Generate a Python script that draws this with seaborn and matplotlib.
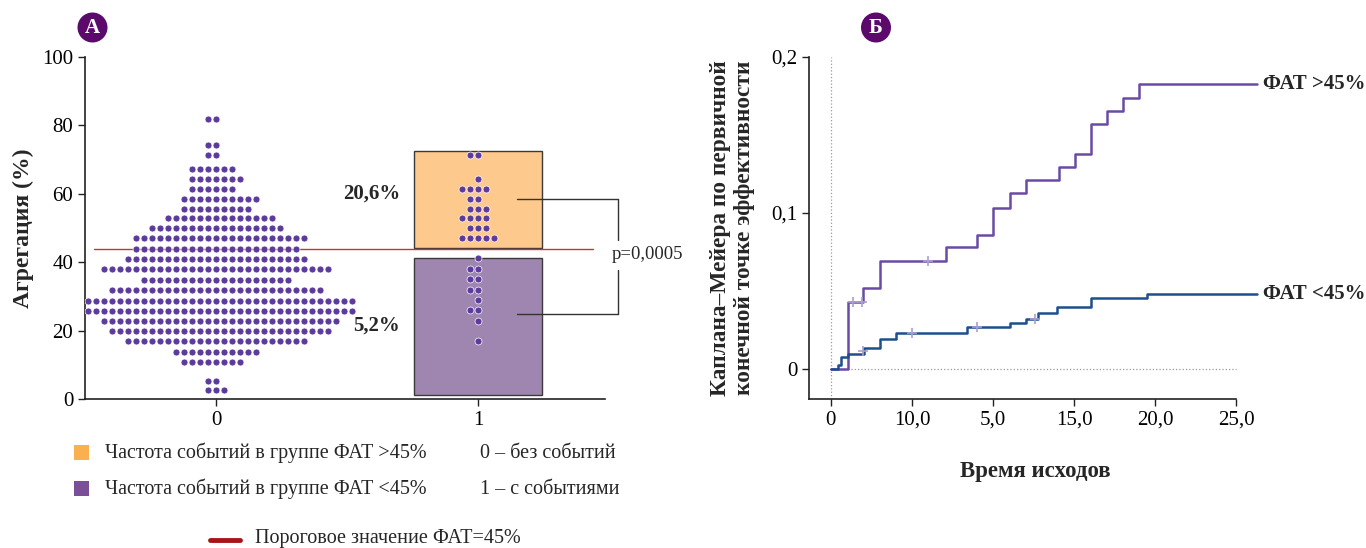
import numpy as np
import pandas as pd
import seaborn as sns
import matplotlib.pyplot as plt
from matplotlib.patches import Ellipse, Rectangle
from matplotlib.lines import Line2D

sns.set_theme(style="ticks")
plt.rcParams['font.family'] = ['Liberation Serif', 'DejaVu Serif']

# ---------------- data: panel A (aggregation dot rows) ----------------
groups = [0, 1]
group_labels = ["0", "1"]
levels_g0 = [82.0, 74.2, 71.2, 67.3, 64.3, 61.4, 58.6, 55.7, 52.8, 49.9, 47.0, 44.0,
             40.9, 37.9, 34.9, 31.9, 28.8, 25.8, 22.9, 19.9, 16.9, 13.8, 10.8, 5.4, 2.5]
counts_g0 = [2, 2, 2, 6, 7, 6, 10, 9, 14, 17, 22, 21,
             23, 29, 19, 27, 35, 34, 30, 28, 23, 11, 8, 2, 3]
levels_g1 = [71.2, 64.4, 61.5, 58.6, 55.7, 52.8, 49.9, 47.0,
             41.1, 38.0, 35.1, 32.0, 28.9, 25.9, 22.9, 17.0]
counts_g1 = [2, 1, 4, 2, 3, 4, 3, 5,
             1, 2, 2, 2, 1, 2, 1, 1]
box_bottom = [44.2, 1.2]     # group 1 boxes: FAT>45% (upper), FAT<45% (lower)
box_top = [72.6, 41.2]
box_labels = ["20,6%", "5,2%"]
box_label_y = [60.0, 21.4]
threshold_y = 44.0
bracket_y = [58.6, 25.0]
p_text = "p=0,0005"

# ---------------- data: panel B (Kaplan-Meier) ----------------
t_hi = [0, 1.07, 2.0, 3.0, 7.07, 9.0, 10.0, 11.03, 12.0, 14.04, 15.02, 16.03, 17.04, 18.04, 19.0, 26.3]
v_hi = [0, 0.043, 0.052, 0.069, 0.0784, 0.086, 0.103, 0.113, 0.121, 0.1297, 0.138, 0.1568,
        0.1654, 0.1739, 0.1824, 0.1824]
t_lo = [0, 0.45, 0.6, 1.07, 2.03, 3.0, 4.0, 8.37, 11.03, 12.0, 12.74, 13.97, 16.03, 19.46, 26.3]
v_lo = [0, 0.0028, 0.0075, 0.0098, 0.0134, 0.0192, 0.023, 0.0269, 0.0292, 0.032, 0.0359,
        0.0397, 0.0455, 0.0483, 0.0483]
cens_t_hi = [1.38, 1.93, 6.0]
cens_v_hi = [0.043, 0.043, 0.069]
cens_t_lo = [1.97, 5.0, 8.98, 12.58]
cens_v_lo = [0.0113, 0.023, 0.0269, 0.032]
xticks_b = [0, 5, 10, 15, 20, 25]
xticklabels_b = ["0", "10,0", "5,0", "15,0", "20,0", "25,0"]
yticks_b = [0, 0.1, 0.2]
yticklabels_b = ["0", "0,1", "0,2"]
series_names = ["ФАТ >45%", "ФАТ <45%"]

# ---------------- colours ----------------
DOT = "#5c3c9b"
ORANGE_BOX = "#fec98c"
PURPLE_BOX = "#9f86b0"
ORANGE_LEG = "#fbb04f"
PURPLE_LEG = "#7b4f98"
RED = "#c0392b"
RED_LEG = "#a8141a"
BADGE = "#5b0a6b"
LINE_HI = "#6a4aa5"
LINE_LO = "#1d4f8f"
CENS = "#a99fd0"

W, H = 1366, 548
fig = plt.figure(figsize=(W / 100, H / 100), dpi=100)

# ================= Panel A =================
axA = fig.add_axes([85 / W, 1 - 399 / H, 520 / W, 342 / H])
spacing = 0.7  # horizontal distance between the two groups (data units)
pos = [g * spacing for g in groups]

axA.bar([pos[1]] * 2, np.array(box_top) - np.array(box_bottom), bottom=box_bottom,
        width=0.34, color=[ORANGE_BOX, PURPLE_BOX], edgecolor="#3a3a3a", linewidth=1.0, zorder=1)

for p, lv, ct in [(pos[0], levels_g0, counts_g0), (pos[1], levels_g1, counts_g1)]:
    d = pd.DataFrame({"pos": p, "agg": np.repeat(lv, ct)})
    sns.swarmplot(data=d, x="pos", y="agg", native_scale=True, orient="x", color=DOT,
                  size=5.0, linewidth=0.5, edgecolor="white", ax=axA, zorder=3)

axA.axhline(threshold_y, xmin=(94 - 85) / 520, xmax=(593 - 85) / 520, color=RED, lw=1.0, zorder=2)

axA.set_xlim(-0.35, 1.039)
axA.set_ylim(0, 100)
axA.set_xticks(pos)
axA.set_xticklabels(group_labels)
axA.set_yticks([0, 20, 40, 60, 80, 100])
axA.tick_params(labelsize=15, length=5, width=1, colors="#222222", labelcolor="black")
for s in ["top", "right"]:
    axA.spines[s].set_visible(False)
for s in ["left", "bottom"]:
    axA.spines[s].set_linewidth(1.2)
    axA.spines[s].set_color("#222222")
axA.set_xlabel("")
axA.set_ylabel("Агрегация (%)", fontsize=17, fontweight="bold")
axA.yaxis.set_label_coords(-0.098, 0.5)

for lab, ly in zip(box_labels, box_label_y):
    axA.text(0.4916, ly, lab, ha="right", va="center", fontsize=15, fontweight="bold")

# bracket with p value
x0b, x1b = 0.805, 1.075
for by in bracket_y:
    axA.plot([x0b, x1b], [by, by], color="#333333", lw=1.0, clip_on=False)
axA.plot([x1b, x1b], [bracket_y[0], 46.6], color="#333333", lw=1.0, clip_on=False)
axA.plot([x1b, x1b], [37.8, bracket_y[1]], color="#333333", lw=1.0, clip_on=False)
axA.text(1.058, 42.2, p_text, ha="left", va="center", fontsize=13.5, clip_on=False)

# ================= Panel B =================
axB = fig.add_axes([809 / W, 1 - 399 / H, 451.7 / W, 342 / H])
axB.set_xlim(-1.35, 26.5)
axB.set_ylim(-0.0192, 0.2)
axB.axvline(0, color="#9a9a9a", ls=":", lw=0.9, zorder=0)
axB.axhline(0, xmin=1.35 / 27.85, xmax=26.35 / 27.85, color="#9a9a9a", ls=":", lw=0.9, zorder=0)

km = pd.concat([
    pd.DataFrame({"t": t_hi, "v": v_hi, "grp": series_names[0]}),
    pd.DataFrame({"t": t_lo, "v": v_lo, "grp": series_names[1]}),
], ignore_index=True)
sns.lineplot(data=km, x="t", y="v", hue="grp", palette=[LINE_HI, LINE_LO], estimator=None,
             sort=False, drawstyle="steps-post", lw=1.8, legend=False, ax=axB, zorder=3)
cens = pd.DataFrame({"t": cens_t_hi + cens_t_lo, "v": cens_v_hi + cens_v_lo})
sns.scatterplot(data=cens, x="t", y="v", marker="+", s=45, color=CENS, linewidth=1.2,
                ax=axB, zorder=4, legend=False)

axB.text(26.63, v_hi[-1], series_names[0], ha="left", va="center", fontsize=15,
         fontweight="bold", clip_on=False)
axB.text(26.63, v_lo[-1], series_names[1], ha="left", va="center", fontsize=15,
         fontweight="bold", clip_on=False)

axB.set_xticks(xticks_b)
axB.set_xticklabels(xticklabels_b)
axB.set_yticks(yticks_b)
axB.set_yticklabels(yticklabels_b)
axB.tick_params(labelsize=15, length=5, width=1, colors="#222222", labelcolor="black")
for s in ["top", "right"]:
    axB.spines[s].set_visible(False)
for s in ["left", "bottom"]:
    axB.spines[s].set_linewidth(1.2)
    axB.spines[s].set_color("#222222")
axB.spines["bottom"].set_bounds(-1.35, 25)
axB.set_xlabel("Время исходов", fontsize=16.5, fontweight="bold")
axB.xaxis.set_label_coords(0.5, -0.182)
axB.set_ylabel("Каплана–Мейера по первичной\nконечной точке эффективности", fontsize=16.8,
               fontweight="bold", linespacing=1.2)
axB.yaxis.set_label_coords(-0.12, 0.5)

# ================= badges =================
for cx, letter in [(92.5, "А"), (876, "Б")]:
    fig.patches.append(Ellipse((cx / W, 1 - 27.5 / H), 30 / W, 30 / H, transform=fig.transFigure,
                               facecolor=BADGE, edgecolor="none"))
    fig.text(cx / W, 1 - 28 / H, letter, ha="center", va="center", color="white",
             fontsize=15, fontweight="bold")

# ================= bottom legend =================
fig.patches.append(Rectangle((74 / W, 1 - 460 / H), 15 / W, 15 / H, transform=fig.transFigure,
                             facecolor=ORANGE_LEG, edgecolor="none"))
fig.patches.append(Rectangle((74 / W, 1 - 496 / H), 15 / W, 15 / H, transform=fig.transFigure,
                             facecolor=PURPLE_LEG, edgecolor="none"))
fig.text(105 / W, 1 - 453 / H, "Частота событий в группе ФАТ >45%", ha="left", va="center", fontsize=14.5)
fig.text(105 / W, 1 - 489 / H, "Частота событий в группе ФАТ <45%", ha="left", va="center", fontsize=14.5)
fig.text(480 / W, 1 - 453 / H, "0 – без событий", ha="left", va="center", fontsize=14.5)
fig.text(480 / W, 1 - 489 / H, "1 – с событиями", ha="left", va="center", fontsize=14.5)
fig.lines.append(Line2D([210 / W, 240 / W], [1 - 540 / H, 1 - 540 / H], transform=fig.transFigure,
                        color=RED_LEG, lw=3.5))
fig.text(255 / W, 1 - 539 / H, "Пороговое значение ФАТ=45%", ha="left", va="center", fontsize=14.5)

fig.savefig("out.png", dpi=100)
